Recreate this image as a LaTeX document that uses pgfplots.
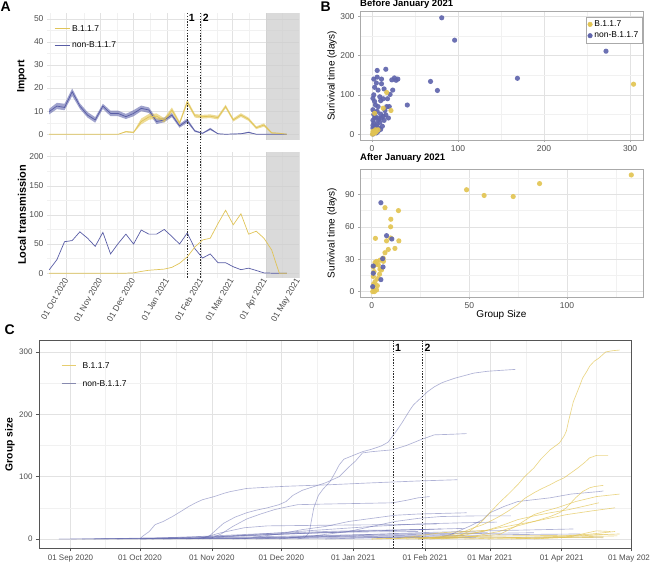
\documentclass[border=0pt]{standalone}
\usepackage{fontspec}
\setmainfont{Liberation Sans}
\usepackage{pgfplots}
\usepackage{pgfplotstable}
\pgfplotsset{compat=1.18}
\definecolor{cy}{RGB}{226,196,82}
\definecolor{cyl}{RGB}{224,196,88}
\definecolor{cyleg}{RGB}{230,205,110}
\definecolor{cb}{RGB}{96,101,172}
\definecolor{cbl}{RGB}{88,92,165}
\definecolor{cbleg}{RGB}{135,138,175}
\definecolor{tickc}{RGB}{77,77,77}
\definecolor{gmaj}{RGB}{226,226,226}
\definecolor{gmin}{RGB}{241,241,241}
\definecolor{shadec}{RGB}{205,205,205}
\definecolor{frameB}{RGB}{170,170,170}
\definecolor{frameC}{RGB}{85,85,85}
\definecolor{dotc}{RGB}{45,45,45}

\pgfplotstableread{
x b y
-16 9.8 0
-9 12.2 0
-2 11.6 0
5 18.4 0
12 12.2 0
19 8.3 0
26 6.2 0
33 12.2 0
40 9.0 0
47 9.0 0
54 7.6 1.1
61 9.0 0.8
68 11.2 5.5
75 10.5 7.5
82 5.5 7.8
89 6.2 6.0
96 8.3 10.5
103 3.6 4.8
110 5.9 14.0
117 1.4 8.0
124 0.4 7.6
131 2.3 7.8
138 0.2 7.2
145 0 12.0
152 0.1 6.2
159 0.2 8.3
166 0.8 6.5
173 0 2.8
180 0 4.0
187 0 0.6
194 0 0.4
201 0 0
}\tabImp

\pgfplotstableread{
x b y
-16 5.7 0
-9 23 0
-2 54 0
5 56 0
12 71 0
19 60 0
26 46 0
33 70 0
40 33 0
47 51 0
54 67 0
61 50 0.5
68 74 3
75 67 5
82 67 6
89 75 7
96 63 10
103 50 17
110 69 28
117 42 45
124 26 57
131 33 60
138 18 85
145 18 108
152 11 83
159 6 102
166 8.6 67
173 4.6 72
180 0.5 60
187 0 40
194 0 0
201 0 0
}\tabLoc

\pgfplotsset{
  /pgf/number format/assume math mode=true,
  gg/.style={scale only axis, grid=both,
    major grid style={draw=gmaj, line width=0.5pt},
    minor grid style={draw=gmin, line width=0.35pt},
    tick label style={text=tickc, font=\fontsize{8.5}{10}\selectfont},
    legend cell align=left},
  panelA/.style={gg, width=252pt, xmin=-18, xmax=212,
    axis line style={draw=none}, major tick length=0pt, minor tick length=0pt,
    xtick={0,31,61,92,123,151,182,212},
    minor xtick={-15,15.5,46,76.5,107.5,137,166.5,197}},
  lgd/.style={legend style={draw=none, fill=none, font=\fontsize{8.5}{10}\selectfont, inner sep=0pt},
    legend image code/.code={\draw[##1] (0pt,0pt) -- (15pt,0pt);}},
  cB/.style={cb, line width=0.65pt, opacity=0.5},
  cY/.style={cy, line width=0.65pt, opacity=0.7},
  ptB/.style={only marks, mark=*, mark size=2.6pt, color=cb, mark options={draw opacity=0, fill opacity=0.92}},
  ptY/.style={only marks, mark=*, mark size=2.6pt, color=cy, mark options={draw opacity=0, fill opacity=0.92}},
}

\begin{document}
\begin{tikzpicture}
\path[use as bounding box] (0pt,0pt) rectangle (650pt,-565pt);

% ---------------- Panel A: Import
\begin{axis}[panelA, lgd, at={(47pt,-140pt)}, anchor=south west, height=127pt,
  ymin=-2.5, ymax=52.5, ytick={0,10,20,30,40,50}, minor ytick={5,15,25,35,45},
  xticklabels={},
  ylabel={\fontsize{10.5}{12}\selectfont\bfseries Import},
  every axis y label/.style={at={(axis description cs:-0.1,0.5)}, rotate=90, anchor=center},
  legend style={at={(axis description cs:0,1)}, anchor=north west, xshift=7pt, yshift=-10pt, row sep=5pt}]
\fill[shadec, opacity=0.75] (axis cs:182,-2.5) rectangle (axis cs:212,52.5);
% 95% bands (upper then lower reversed)
\addplot[fill=cb, fill opacity=0.6, draw=none, forget plot] coordinates {(-16,11.0) (-9,13.6) (-2,13.2) (5,19.8) (12,13.4) (19,9.6) (26,7.4) (33,13.2) (40,10.2) (47,10.2) (54,8.8) (61,10.4) (68,12.4) (75,11.6) (82,6.8) (89,7.2) (96,9.2) (103,4.4) (110,6.8) (117,1.8) (124,0.6) (131,2.8) (138,0.3) (145,0) (152,0.2) (159,0.3) (166,1.1) (173,0)
 (166,0.5) (159,0.1) (152,0) (145,0) (138,0.1) (131,1.8) (124,0.2) (117,1.0) (110,5.0) (103,2.8) (96,7.4) (89,5.2) (82,4.4) (75,9.2) (68,10.0) (61,7.8) (54,6.6) (47,7.8) (40,7.8) (33,11.0) (26,5.0) (19,7.2) (12,11.0) (5,16.6) (-2,10.4) (-9,10.9) (-16,8.6)};
\addplot[fill=cy, fill opacity=0.6, draw=none, forget plot] coordinates {(47,0) (54,1.4) (61,1.1) (68,6.8) (75,8.8) (82,9.0) (89,7.0) (96,11.6) (103,5.6) (110,15.0) (117,8.8) (124,8.4) (131,8.6) (138,8.0) (145,12.8) (152,6.9) (159,9.1) (166,7.2) (173,3.4) (180,4.7) (187,0.9) (194,0.6) (201,0)
 (194,0.2) (187,0.3) (180,3.3) (173,2.2) (166,5.8) (159,7.5) (152,5.5) (145,11.2) (138,6.4) (131,7.0) (124,6.8) (117,7.2) (110,13.0) (103,4.0) (96,9.5) (89,5.0) (82,6.6) (75,6.3) (68,4.3) (61,0.5) (54,0.8)};
\addplot[cbl, line width=0.7pt, forget plot] table[x=x,y=b] {\tabImp};
\addplot[cyl, line width=0.7pt, forget plot] table[x=x,y=y] {\tabImp};
\addlegendimage{cyl, line width=0.9pt}\addlegendentry{B.1.1.7}
\addlegendimage{cbl, line width=0.9pt}\addlegendentry{non-B.1.1.7}
\coordinate (d1t) at (axis cs:110,52.5);
\coordinate (d2t) at (axis cs:121.8,52.5);
\end{axis}

% ---------------- Panel A: Local transmission
\begin{axis}[panelA, at={(47pt,-278pt)}, anchor=south west, height=126.3pt,
  ymin=-8.3, ymax=208.5, ytick={0,50,100,150,200}, minor ytick={25,75,125,175},
  xticklabels={01 Oct 2020,01 Nov 2020,01 Dec 2020,01 Jan 2021,01 Feb 2021,01 Mar 2021,01 Apr 2021,01 May 2021},
  xticklabel style={rotate=60, anchor=east, inner sep=1pt},
  ylabel={\fontsize{11}{12}\selectfont\bfseries Local transmission},
  every axis y label/.style={at={(axis description cs:-0.099,0.5)}, rotate=90, anchor=center}]
\fill[shadec, opacity=0.75] (axis cs:182,-8.3) rectangle (axis cs:212,208.5);
\addplot[cbl, line width=0.7pt, forget plot] table[x=x,y=b] {\tabLoc};
\addplot[cyl, line width=0.7pt, forget plot] table[x=x,y=y] {\tabLoc};
\coordinate (d1b) at (axis cs:110,-8.3);
\coordinate (d2b) at (axis cs:121.8,-8.3);
\end{axis}
\draw[dotc, line width=0.9pt, dash pattern=on 1.3pt off 1.5pt] (d1t) -- (d1b);
\draw[dotc, line width=0.9pt, dash pattern=on 1.3pt off 1.5pt] (d2t) -- (d2b);
\node[anchor=west, inner sep=0pt, font=\fontsize{10.5}{12}\selectfont\bfseries] at ([xshift=1.5pt,yshift=-4.5pt]d1t) {1};
\node[anchor=west, inner sep=0pt, font=\fontsize{10.5}{12}\selectfont\bfseries] at ([xshift=2.5pt,yshift=-4.5pt]d2t) {2};

% ---------------- Panel B: before
\begin{axis}[gg, at={(360pt,-140pt)}, anchor=south west, width=283pt, height=128.5pt,
  xmin=-14, xmax=315, ymin=-15, ymax=312,
  xtick={0,100,200,300}, minor xtick={50,150,250}, ytick={0,100,200,300}, minor ytick={50,150,250},
  axis line style={draw=frameB, line width=0.6pt}, tick style={draw=frameB, line width=0.4pt},
  major tick length=2pt, minor tick length=0pt, tick align=outside, xtick pos=left, ytick pos=left,
  ylabel={\fontsize{10}{12}\selectfont Surivival time (days)},
  every axis y label/.style={at={(axis description cs:-0.099,0.5)}, rotate=90, anchor=center},
  title={\fontsize{9.5}{11}\selectfont\bfseries Before January 2021},
  every axis title/.style={at={(axis description cs:0,1)}, anchor=base west, yshift=4.5pt, inner sep=0pt},
  legend style={at={(axis description cs:1,1)}, anchor=north east, xshift=-0.5pt, yshift=-5.5pt,
    draw=frameB, fill=white, font=\fontsize{8.5}{10}\selectfont, inner xsep=2pt, inner ysep=1.5pt, row sep=0pt}]
\addplot[ptB, forget plot] coordinates {(81,296) (96,239) (272,211) (169,142) (68,134) (76,111) (41,74)
 (30,140) (26,143) (16,165) (6,162) (2,140) (6,145) (11,140) (11,128) (7,112) (3,119) (14,115)
 (24,112) (18,90) (21,101) (1,91) (3,83) (10,85) (13,90) (17,70) (20,70) (7,70) (4,74) (6,58)
 (1,62) (10,51) (16,49) (19,41) (11,41) (3,41) (7,36) (2,28) (5,21) (1,15) (3,7) (1,0) (7,7)
 (13,45) (9,30) (14,35) (2,50) (4,10) (6,25) (8,15) (12,20) (2,100) (5,130) (9,95) (15,60)
 (23,138) (28,137) (3,55) (1,35) (4,45) (2,5) (5,3) (10,12) (3,18) (8,40) (1,22)};
\addplot[ptY, forget plot] coordinates {(304,127) (17,106) (13,66) (22,60) (3,53) (1,7) (4,11) (0.5,0) (3,2.5) (7,11) (2,4) (5,6)};
\addlegendimage{only marks, mark=*, mark size=2.3pt, color=cy}\addlegendentry{B.1.1.7}
\addlegendimage{only marks, mark=*, mark size=2.3pt, color=cb}\addlegendentry{non-B.1.1.7}
\end{axis}

% ---------------- Panel B: after
\begin{axis}[gg, at={(360pt,-297pt)}, anchor=south west, width=283pt, height=128pt,
  xmin=-6, xmax=139, ymin=-5, ymax=113.5,
  xtick={0,50,100}, minor xtick={25,75,125}, ytick={0,30,60,90}, minor ytick={15,45,75,105},
  axis line style={draw=frameB, line width=0.6pt}, tick style={draw=frameB, line width=0.4pt},
  major tick length=2pt, minor tick length=0pt, tick align=outside, xtick pos=left, ytick pos=left,
  ylabel={\fontsize{10}{12}\selectfont Surivival time (days)},
  every axis y label/.style={at={(axis description cs:-0.099,0.5)}, rotate=90, anchor=center},
  xlabel={\fontsize{10}{12}\selectfont Group Size},
  every axis x label/.style={at={(axis description cs:0.5,-0.14)}, anchor=center},
  title={\fontsize{9.5}{11}\selectfont\bfseries After January 2021},
  every axis title/.style={at={(axis description cs:0,1)}, anchor=base west, yshift=8.5pt, inner sep=0pt}]
\addplot[ptY, forget plot] coordinates {(133,108) (86,100) (72.5,88) (57.6,89) (48.6,94.3) (13.7,75) (6.8,77.7)
 (9.8,67) (9.7,60) (9.7,49.6) (13.9,47) (7.6,47) (8.5,39) (11.9,40) (6.8,36) (1.9,49.3) (5.9,31)
 (4.2,29) (2.5,28) (1.7,27) (3.4,24.7) (0.8,23) (1.2,18.5) (4.2,20.7) (0.8,14) (1.7,9.2) (2.9,5.5)
 (0.8,3) (0.5,0) (1.4,0) (2.5,1.5) (5,20) (3,12) (1,7) (2,25) (6,28) (4,16)};
\addplot[ptB, forget plot] coordinates {(4.7,82.3) (7.6,51.8) (10.3,48.7) (5.6,30.5) (5.8,22.8) (4.7,11.1) (0.8,17) (0.8,23.7) (0.5,4.6)};
\end{axis}

% ---------------- Panel C
\begin{axis}[gg, at={(39pt,-548.3pt)}, anchor=south west, width=592.7pt, height=207.6pt,
  xmin=-43.6, xmax=212.2, ymin=-15, ymax=318,
  xtick={-30,0,31,61,92,123,151,182,212},
  xticklabels={01 Sep 2020,01 Oct 2020,01 Nov 2020,01 Dec 2020,01 Jan 2021,01 Feb 2021,01 Mar 2021,01 Apr 2021,01 May 2021},
  minor xtick={-15,15.5,46,76.5,107.5,137,166.5,197},
  ytick={0,100,200,300}, minor ytick={50,150,250},
  axis line style={draw=frameC, line width=0.8pt}, tick style={draw=frameC, line width=0.5pt},
  major tick length=3pt, minor tick length=0pt, tick align=outside, xtick pos=left, ytick pos=left,
  tick label style={font=\fontsize{8}{10}\selectfont},
  ylabel={\fontsize{10.3}{12}\selectfont\bfseries Group size},
  every axis y label/.style={at={(axis description cs:-0.049,0.5)}, rotate=90, anchor=center}]
% blue groups
\addplot[cB, forget plot] coordinates {(0,0) (1,4) (4,12) (6.5,23) (10,28) (14,36) (18,45) (21,52) (24,58) (27,63) (32,68) (36,73) (39,76) (46,81) (55,83) (63,84.5) (82,87) (100,90) (120,93) (137,95)};
\addplot[cB, forget plot] coordinates {(68,0) (71,2) (73,10) (74,30) (75,50) (77,70) (79,80) (82,92) (84,105) (86,119) (88,128) (90,131) (96,140) (100,144) (104,149) (107,155) (109,165) (111,175) (113,186) (115,198) (116.5,207) (118,215) (120,222) (122,229) (124,236) (127,244) (130,250) (132,253) (136,258) (140,262) (144,266) (150,269) (162,272)};
\addplot[cB, forget plot] coordinates {(27,0) (30,5) (33,15) (36,25) (41,35) (46,42) (50,46) (55,50) (60,55) (63,60) (66,70) (70,78) (75,84) (80,90) (86,100) (90,115) (93,125) (96,138) (100,140) (109,143) (115,150) (121,159) (124,163) (127,167) (135,168) (141,169)};
\addplot[cB, forget plot] coordinates {(30,0) (35,8) (40,20) (46,32) (52,40) (58,47) (64,52) (68,55) (80,56) (95,57) (109,58) (115,62) (120,66) (125,68)};
\addplot[cB, forget plot] coordinates {(45,0) (50,3) (60,8) (70,15) (80,20) (90,28) (100,33) (110,38) (120,40) (141,42)};
\addplot[cB, forget plot] coordinates {(60,0) (75,5) (90,12) (100,20) (110,28) (120,33) (130,36) (145,37) (160,37)};
\addplot[cB, forget plot] coordinates {(20,0) (40,5) (60,10) (80,15) (100,20) (120,24) (140,26) (154,27)};
\addplot[cB, forget plot] coordinates {(120,0) (130,3) (134,7) (142,20) (148,31) (151,42) (157,52) (163,60) (177,66) (186,72) (198,76) (200,77)};
\addplot[cB, forget plot] coordinates {(40,0) (60,3) (90,6) (120,10) (150,13) (187,16)};
\addplot[cB, forget plot] coordinates {(-25,0) (0,1) (30,3) (60,8) (90,12) (120,15) (140,17)};
\addplot[cB, forget plot] coordinates {(-20,0) (10,2) (40,5) (80,10) (110,14) (130,16)};
\addplot[cB, forget plot] coordinates {(0,0) (20,3) (50,8) (80,12) (100,14) (125,15)};
\addplot[cB, forget plot] coordinates {(-10,0) (30,2) (70,5) (110,8) (150,10)};
\addplot[cB, forget plot] coordinates {(10,0) (40,4) (70,9) (90,11) (120,12)};
\addplot[cB, forget plot] coordinates {(-30,0) (20,1) (60,2) (100,4) (140,5)};
\addplot[cB, forget plot] coordinates {(25,0) (35,10) (45,18) (55,21) (80,22) (110,23) (128,24)};
\addplot[cB, forget plot] coordinates {(50,0) (70,3) (100,6) (130,8) (170,10)};
\addplot[cB, forget plot] coordinates {(80,0) (100,2) (130,5) (160,7) (190,8)};
\addplot[cB, forget plot] coordinates {(0,0) (50,1) (100,2) (150,3) (200,3)};
\addplot[cB, forget plot] coordinates {(-35,0) (10,0.5) (60,1) (110,2) (145,2)};
\addplot[cB, forget plot] coordinates {(5,0) (45,2) (85,4) (120,6) (135,7)};
% yellow groups
\addplot[cY, forget plot] coordinates {(100,0) (110,1) (120,1.5) (134,2) (138,6) (142,12) (145,20) (148,30) (151,42) (155,58) (159,72) (163,87) (166,100) (170,114) (173,128) (177,143) (181,154) (183,165) (184,173) (185,190) (186,205) (187,220) (188.5,234) (190,248) (191,258) (193,270) (194,277) (196,285) (198,290) (201,300) (204,302) (207,303)};
\addplot[cY, forget plot] coordinates {(120,0) (130,4) (135,7) (140,12) (144,18) (148,23) (152,30) (155,36) (159,45) (163,55) (166,65) (170,74) (173,80) (177,87) (180,93) (183,98) (186,106) (189,114) (192,123) (194,130) (197,134) (202,134)};
\addplot[cY, forget plot] coordinates {(130,0) (145,5) (155,12) (162,20) (170,28) (177,36) (181,42) (184,50) (186,58) (188,66) (191,76) (194,82) (196,84) (200,86)};
\addplot[cY, forget plot] coordinates {(125,0) (140,3) (155,7) (162,20) (170,39) (175,45) (180,50) (188,60) (197,68) (207,72)};
\addplot[cY, forget plot] coordinates {(120,0) (135,5) (148,12) (155,20) (163,31) (170,37) (177,42) (185,47) (191,52) (198,58)};
\addplot[cY, forget plot] coordinates {(125,0) (140,6) (155,18) (170,28) (184,39) (195,45) (205,50)};
\addplot[cY, forget plot] coordinates {(110,0) (120,5) (130,10) (140,12) (150,14)};
\addplot[cY, forget plot] coordinates {(140,0) (160,2) (180,4) (195,8) (205,12)};
\addplot[cY, forget plot] coordinates {(150,0) (170,1) (190,5) (200,7) (207,8)};
\addplot[cY, forget plot] coordinates {(160,0) (180,2) (195,4) (206,5)};
\addplot[cY, forget plot] coordinates {(170,0) (185,3) (192,9) (197,13) (203,12)};
\addplot[cY, forget plot] coordinates {(100,0) (130,3) (160,5) (190,6) (200,7)};
\addplot[cY, forget plot] coordinates {(115,0) (150,2) (180,3) (200,2)};
\draw[dotc, line width=0.9pt, dash pattern=on 1.3pt off 1.5pt] (axis cs:109.2,-15) -- (axis cs:109.2,318);
\draw[dotc, line width=0.9pt, dash pattern=on 1.3pt off 1.5pt] (axis cs:121.7,-15) -- (axis cs:121.7,318);
\coordinate (c1t) at (axis cs:109.2,318);
\coordinate (c2t) at (axis cs:121.7,318);
\end{axis}
\node[anchor=west, inner sep=0pt, font=\fontsize{10.5}{12}\selectfont\bfseries] at ([xshift=1.8pt,yshift=-7pt]c1t) {1};
\node[anchor=west, inner sep=0pt, font=\fontsize{10.5}{12}\selectfont\bfseries] at ([xshift=2.5pt,yshift=-7pt]c2t) {2};
% panel C legend
\draw[cyleg, line width=1pt] (61.7pt,-365.7pt) -- (75.5pt,-365.7pt);
\draw[cbleg, line width=1pt] (61.7pt,-383.3pt) -- (75.5pt,-383.3pt);
\node[anchor=west, inner sep=0pt, font=\fontsize{8.5}{10}\selectfont] at (82.5pt,-365.7pt) {B.1.1.7};
\node[anchor=west, inner sep=0pt, font=\fontsize{8.5}{10}\selectfont] at (82.5pt,-383.3pt) {non-B.1.1.7};

% panel letters
\node[anchor=north west, inner sep=0pt, font=\fontsize{14}{14}\selectfont\bfseries] at (0.5pt,-1.5pt) {A};
\node[anchor=north west, inner sep=0pt, font=\fontsize{14}{14}\selectfont\bfseries] at (320.5pt,-1.5pt) {B};
\node[anchor=north west, inner sep=0pt, font=\fontsize{14}{14}\selectfont\bfseries] at (4.5pt,-324.5pt) {C};
\end{tikzpicture}
\end{document}
